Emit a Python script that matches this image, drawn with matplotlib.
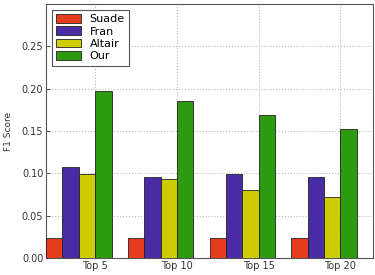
import matplotlib
matplotlib.use('Agg')
import matplotlib.pyplot as plt
import numpy as np

groups = ['Top 5', 'Top 10', 'Top 15', 'Top 20']
methods = ['Suade', 'Fran', 'Altair', 'Our']
suade = [0.023, 0.023, 0.023, 0.023]
fran = [0.108, 0.096, 0.099, 0.096]
altair = [0.099, 0.093, 0.080, 0.072]
our = [0.197, 0.186, 0.169, 0.152]
colors = ['#e63c1e', '#4a2ba6', '#cccc00', '#2e9a12']

fig = plt.figure(figsize=(3.75, 2.75), dpi=100)
ax = fig.add_axes([0.123, 0.062, 0.872, 0.923])

ind = np.arange(len(groups))
width = 0.2
series = [suade, fran, altair, our]
for i, vals in enumerate(series):
    ax.bar(ind + i * width, vals, width, align='edge', color=colors[i],
           edgecolor='#222222', linewidth=0.6, label=methods[i], zorder=3)

ax.set_xlim(0, 4)
ax.set_ylim(0, 0.30)
ax.set_yticks([0.00, 0.05, 0.10, 0.15, 0.20, 0.25])
ax.set_yticklabels(['0.00', '0.05', '0.10', '0.15', '0.20', '0.25'])
ax.set_xticks(ind + 3 * width)
ax.set_xticklabels(groups)
ax.tick_params(labelsize=7, colors='#333333', length=3, width=0.6, direction='in', pad=2)
ax.grid(True, linestyle=':', color='#bbbbbb', linewidth=0.8, zorder=0)
ax.set_ylabel('F1 Score', fontsize=6.5, color='#333333', labelpad=6)
for s in ax.spines.values():
    s.set_color('#555555')
    s.set_linewidth(0.8)

leg = ax.legend(loc='upper left', fontsize=8, fancybox=False, framealpha=1,
                edgecolor='#555555', handlelength=2.2, handleheight=0.8,
                borderaxespad=0.5, labelspacing=0.2)
leg.get_frame().set_linewidth(0.8)

fig.savefig('out.png', dpi=100)
